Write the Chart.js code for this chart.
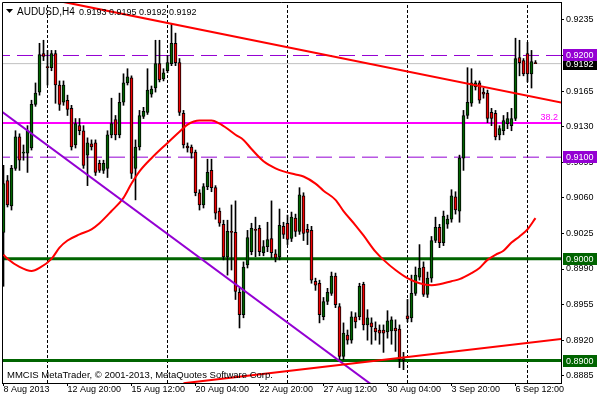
<!DOCTYPE html>
<html><head><meta charset="utf-8">
<script src="https://cdn.jsdelivr.net/npm/chart.js@4.4.0/dist/chart.umd.min.js"></script>
<style>html,body{margin:0;padding:0;background:#fff;}canvas{display:block;}</style>
</head><body>
<canvas id="c" width="600" height="400"></canvas>
<script>
const symbol = 'AUDUSD,H4';
const copyright = 'MMCIS MetaTrader, \u00A9 2001-2013, MetaQuotes Software Corp.';

const opens = [0.9026,0.9077,0.9052,0.9089,0.9120,0.9104,0.9104,0.9109,0.9152,0.9164,
0.9202,0.9189,0.9188,0.9202,0.9171,0.9154,0.9156,0.9148,0.9112,0.9131,
0.9126,0.9102,0.9113,0.9114,0.9094,0.9087,0.9089,0.9122,0.9137,0.9122,
0.9154,0.9173,0.9178,0.9089,0.9110,0.9140,0.9144,0.9162,0.9168,0.9192,
0.9177,0.9185,0.9192,0.9212,0.9193,0.9143,0.9111,0.9110,0.9105,0.9065,
0.9053,0.9071,0.9087,0.9070,0.9047,0.9034,0.9002,0.9027,0.9026,0.8967,
0.8945,0.8994,0.9007,0.9029,0.9030,0.9006,0.9012,0.9020,0.9005,0.9002,
0.9032,0.9035,0.9020,0.9040,0.9027,0.9062,0.9029,0.9028,0.8978,0.8976,
0.8943,0.8958,0.8966,0.8983,0.8953,0.8904,0.8925,0.8920,0.8943,0.8943,
0.8975,0.8935,0.8937,0.8932,0.8930,0.8930,0.8928,0.8929,0.8932,0.8931,
0.8902,0.8944,0.8942,0.8966,0.8982,0.8992,0.8965,0.8981,0.9018,0.9031,
0.9016,0.9034,0.9039,0.9061,0.9047,0.9099,0.9141,0.9153,0.9169,0.9173,
0.9164,0.9163,0.9144,0.9143,0.9122,0.9126,0.9133,0.9131,0.9138,0.9198,
0.9195,0.9202,0.9182,0.9193];
const highs = [0.9092,0.9082,0.9092,0.9126,0.9123,0.9112,0.9131,0.9156,0.9173,0.9212,
0.9215,0.9205,0.9205,0.9205,0.9175,0.9175,0.9161,0.9151,0.9138,0.9138,
0.9131,0.9119,0.9117,0.9117,0.9097,0.9097,0.9126,0.9158,0.9141,0.9163,
0.9182,0.9187,0.9180,0.9117,0.9146,0.9149,0.9187,0.9170,0.9215,0.9215,
0.9187,0.9200,0.9231,0.9222,0.9197,0.9146,0.9114,0.9112,0.9107,0.9068,
0.9074,0.9098,0.9098,0.9072,0.9050,0.9038,0.9038,0.9053,0.9057,0.8971,
0.8997,0.9028,0.9035,0.9041,0.9033,0.9018,0.9036,0.9057,0.9009,0.9049,
0.9036,0.9043,0.9046,0.9044,0.9070,0.9065,0.9034,0.9032,0.8981,0.8979,
0.8962,0.8971,0.8987,0.8986,0.8956,0.8937,0.8930,0.8948,0.8947,0.8976,
0.8977,0.8950,0.8942,0.8938,0.8935,0.8935,0.8949,0.8943,0.8940,0.8935,
0.8908,0.8960,0.8984,0.8992,0.9014,0.8997,0.8987,0.9022,0.9041,0.9034,
0.9047,0.9043,0.9068,0.9066,0.9102,0.9146,0.9188,0.9187,0.9175,0.9175,
0.9168,0.9166,0.9148,0.9146,0.9131,0.9141,0.9144,0.9148,0.9217,0.9215,
0.9197,0.9213,0.9205,0.9195];
const lows = [0.8973,0.9051,0.9048,0.9087,0.9087,0.9097,0.9085,0.9107,0.9150,0.9161,
0.9195,0.9171,0.9185,0.9153,0.9146,0.9151,0.9141,0.9107,0.9109,0.9122,
0.9089,0.9072,0.9107,0.9082,0.9085,0.9084,0.9080,0.9119,0.9117,0.9119,
0.9151,0.9171,0.9079,0.9058,0.9107,0.9138,0.9142,0.9159,0.9164,0.9174,
0.9175,0.9183,0.9190,0.9190,0.9141,0.9109,0.9105,0.9099,0.9062,0.9048,
0.9050,0.9068,0.9066,0.9039,0.9032,0.8999,0.8984,0.8989,0.8960,0.8932,
0.8942,0.8991,0.9004,0.9002,0.9003,0.9003,0.9007,0.9001,0.8997,0.8999,
0.9020,0.9014,0.9017,0.9022,0.9024,0.9018,0.9014,0.8976,0.8969,0.8937,
0.8940,0.8955,0.8964,0.8952,0.8901,0.8901,0.8916,0.8917,0.8932,0.8940,
0.8930,0.8920,0.8916,0.8920,0.8916,0.8908,0.8922,0.8916,0.8909,0.8893,
0.8891,0.8938,0.8938,0.8964,0.8979,0.8963,0.8962,0.8977,0.9016,0.9011,
0.9013,0.9030,0.9036,0.9044,0.9036,0.9087,0.9138,0.9150,0.9166,0.9153,
0.9158,0.9134,0.9131,0.9117,0.9117,0.9122,0.9128,0.9126,0.9136,0.9180,
0.9180,0.9174,0.9168,0.9192];
const closes = [0.9074,0.9053,0.9089,0.9120,0.9097,0.9105,0.9126,0.9152,0.9163,0.9201,
0.9199,0.9188,0.9202,0.9171,0.9152,0.9171,0.9147,0.9110,0.9133,0.9126,
0.9092,0.9114,0.9110,0.9085,0.9087,0.9094,0.9122,0.9133,0.9122,0.9154,
0.9173,0.9179,0.9084,0.9110,0.9141,0.9145,0.9166,0.9167,0.9192,0.9176,
0.9183,0.9193,0.9212,0.9193,0.9144,0.9112,0.9109,0.9104,0.9065,0.9053,
0.9071,0.9085,0.9070,0.9045,0.9035,0.9002,0.9027,0.9026,0.8968,0.8945,
0.8992,0.9021,0.9030,0.9028,0.9007,0.9012,0.9019,0.9006,0.9001,0.9033,
0.9024,0.9019,0.9041,0.9027,0.9063,0.9025,0.9026,0.8979,0.8974,0.8945,
0.8958,0.8967,0.8983,0.8955,0.8904,0.8927,0.8920,0.8943,0.8938,0.8973,
0.8935,0.8942,0.8933,0.8928,0.8927,0.8927,0.8939,0.8940,0.8929,0.8901,
0.8900,0.8941,0.8966,0.8984,0.8991,0.8965,0.8981,0.9018,0.9031,0.9016,
0.9042,0.9039,0.9062,0.9048,0.9099,0.9141,0.9154,0.9173,0.9173,0.9156,
0.9162,0.9138,0.9138,0.9120,0.9128,0.9136,0.9138,0.9138,0.9197,0.9193,
0.9182,0.9182,0.9194,0.9192];

const timeTickBars = [0,16,32,48,64,80,96,112,128];
const timeTickLabels = ['8 Aug 2013','12 Aug 20:00','15 Aug 12:00','20 Aug 04:00','22 Aug 20:00','27 Aug 12:00','30 Aug 04:00','3 Sep 20:00','6 Sep 12:00'];
const priceTicks = [0.8885,0.8920,0.8955,0.8990,0.9025,0.9060,0.9095,0.9130,0.9165,0.9200,0.9235];
const separatorBars = [11,41,71,101,131];

const maBars = [0,1,4,7,9,12,14,16,19,22,24,27,30,32,34,37,41,44,46,49,52,54,56,58,60,62,65,68,70,73,75,78,80,83,85,88,90,93,95,98,101,104,107,109,112,114,117,119,121,123,125,127,129,131,133];
const maValues = [0.9004,0.9000,0.8992,0.8988,0.8991,0.9000,0.9011,0.9018,0.9024,0.9029,0.9035,0.9047,0.9060,0.9074,0.9086,0.9099,0.9114,0.9125,0.9132,0.9136,0.9136,0.9133,0.9128,0.9122,0.9117,0.9108,0.9096,0.9089,0.9086,0.9083,0.9081,0.9074,0.9067,0.9058,0.9047,0.9033,0.9023,0.9007,0.8999,0.8989,0.8981,0.8976,0.8974,0.8975,0.8978,0.8980,0.8986,0.8991,0.8999,0.9004,0.9008,0.9016,0.9022,0.9029,0.9040];

const trendTopBars = [15,140], trendTopValues = [0.92527,0.91532];
const trendLowBars = [45,140], trendLowValues = [0.88776,0.89215];
const trendPurpleBars = [-1,92], trendPurpleValues = [0.91464,0.88763];
const levelsPurple = [0.9200,0.9100];
const levelsGreen = [0.9000,0.8900];
const fiboLevel = 0.91336, fiboLabel = '38.2';
const bidPrice = 0.9192;

const FONT = '"Liberation Sans", Arial, sans-serif';
const Y_MIN = 0.887788, Y_MAX = 0.925262, X_MIN = -0.375, X_MAX = 139.375;
const BULL = '#006400', BEAR = '#EE0000', PURPLE = '#9400D3', GREEN = '#006400';

const idx = opens.map((_, i) => i);
function lineDS(bars, vals, color, width, dash, order, extra) {
  return Object.assign({
    type: 'line', data: bars.map((b, k) => ({x: b, y: vals[k]})),
    borderColor: color, borderWidth: width, borderDash: dash || [],
    pointRadius: 0, fill: false, tension: 0, order: order
  }, extra || {});
}
function hLine(v, color, width, dash, order) {
  return lineDS([X_MIN - 2, X_MAX + 2], [v, v], color, width, dash, order);
}

const datasets = [];
separatorBars.forEach(b => datasets.push(lineDS([b, b], [Y_MIN, Y_MAX], '#000', 1, [3, 2], 12)));
datasets.push(hLine(bidPrice, '#C0C0C0', 1, [], 11));
levelsPurple.forEach(v => datasets.push(hLine(v, PURPLE, 1, [16, 7], 11)));
levelsGreen.forEach(v => datasets.push(hLine(v, GREEN, 3, [], 11)));
datasets.push(hLine(fiboLevel, '#FF00FF', 2, [], 11));
datasets.push({
  type: 'bar', data: idx.map(i => ({x: i, y: [lows[i], highs[i]]})),
  backgroundColor: '#000', borderWidth: 0, barThickness: 1, grouped: false, order: 10
});
datasets.push({
  type: 'bar', data: idx.map(i => ({x: i, y: [opens[i], closes[i]]})),
  backgroundColor: idx.map(i => closes[i] >= opens[i] ? BULL : BEAR),
  borderColor: '#000', borderWidth: 1, borderSkipped: false, barThickness: 3,
  minBarLength: 1, grouped: false, order: 9
});
datasets.push(lineDS(maBars, maValues, '#FF0000', 2, [], 2, {cubicInterpolationMode: 'monotone'}));
datasets.push(lineDS(trendTopBars, trendTopValues, '#FF0000', 2, [], 1));
datasets.push(lineDS(trendLowBars, trendLowValues, '#FF0000', 2, [], 1));
datasets.push(lineDS(trendPurpleBars, trendPurpleValues, PURPLE, 2, [], 1));

const last = opens.length - 1;
const fmt = v => v.toFixed(4);

const deco = {
  id: 'deco',
  beforeDraw(chart) {
    const ctx = chart.ctx;
    ctx.save(); ctx.fillStyle = '#fff'; ctx.fillRect(0, 0, chart.width, chart.height); ctx.restore();
  },
  afterDatasetsDraw(chart) {
    const {ctx, chartArea: a, scales: {y}} = chart;
    ctx.save();
    ctx.strokeStyle = '#000'; ctx.lineWidth = 1;
    ctx.beginPath();
    ctx.moveTo(a.left + 0.5, a.bottom); ctx.lineTo(a.left + 0.5, a.top + 0.5); ctx.lineTo(a.right, a.top + 0.5);
    ctx.stroke();
    ctx.fillStyle = '#FF00FF'; ctx.font = '9px ' + FONT; ctx.textAlign = 'right'; ctx.textBaseline = 'alphabetic';
    ctx.fillText(fiboLabel, a.right - 3, y.getPixelForValue(fiboLevel) - 3);
    ctx.fillStyle = '#000';
    ctx.beginPath(); ctx.moveTo(6, 9); ctx.lineTo(13, 9); ctx.lineTo(9.5, 13); ctx.closePath(); ctx.fill();
    ctx.textAlign = 'left';
    ctx.font = '10px ' + FONT;
    ctx.fillText(symbol, 17, 15);
    ctx.font = '9px ' + FONT;
    ctx.fillText([opens[last], highs[last], lows[last], closes[last]].map(fmt).join(' '), 79, 15);
    ctx.font = '9.5px ' + FONT;
    ctx.fillText(copyright, 7, 378);
    ctx.restore();
  },
  afterDraw(chart) {
    const {ctx, scales: {y}} = chart;
    ctx.save();
    ctx.font = '9px ' + FONT; ctx.textAlign = 'left'; ctx.textBaseline = 'middle';
    const box = (v, bg) => {
      const py = Math.round(y.getPixelForValue(v));
      ctx.fillStyle = bg; ctx.fillRect(563, py - 6, 34, 12);
      ctx.fillStyle = '#fff'; ctx.fillText(fmt(v), 566, py + 0.5);
    };
    box(bidPrice, '#000');
    levelsPurple.forEach(v => box(v, PURPLE));
    levelsGreen.forEach(v => box(v, GREEN));
    ctx.restore();
  }
};

new Chart(document.getElementById('c'), {
  type: 'bar',
  data: { datasets },
  options: {
    responsive: false, animation: false, devicePixelRatio: 1, events: [],
    layout: { padding: { left: 2, top: 2, right: 0, bottom: 0 } },
    plugins: { legend: { display: false }, tooltip: { enabled: false }, title: { display: false } },
    scales: {
      x: {
        type: 'linear', min: X_MIN, max: X_MAX, position: 'bottom', offset: false, bounds: 'data',
        grid: { display: true, offset: false, drawOnChartArea: false, drawTicks: true, tickLength: 3, color: '#000' },
        border: { display: true, color: '#000', width: 1 },
        ticks: {
          autoSkip: false, maxRotation: 0, minRotation: 0, align: 'start', padding: -1, color: '#000',
          font: { family: FONT, size: 9, lineHeight: 1 },
          callback: v => { const k = timeTickBars.indexOf(v); return k >= 0 ? timeTickLabels[k] : ''; }
        },
        afterBuildTicks: s => { s.ticks = timeTickBars.map(v => ({value: v})); },
        afterFit: s => { s.height = 17; s.paddingLeft = 0; s.paddingRight = 0; }
      },
      y: {
        type: 'linear', position: 'right', min: Y_MIN, max: Y_MAX, bounds: 'data', beginAtZero: false,
        grid: { display: true, drawOnChartArea: false, drawTicks: true, tickLength: 3, color: '#000' },
        border: { display: true, color: '#000', width: 1 },
        ticks: { padding: 2, color: '#000', font: { family: FONT, size: 9 }, callback: v => fmt(v) },
        afterBuildTicks: s => { s.ticks = priceTicks.map(v => ({value: v})); },
        afterFit: s => { s.width = 39; s.paddingTop = 0; s.paddingBottom = 0; }
      }
    }
  },
  plugins: [deco]
});
</script>
</body></html>
